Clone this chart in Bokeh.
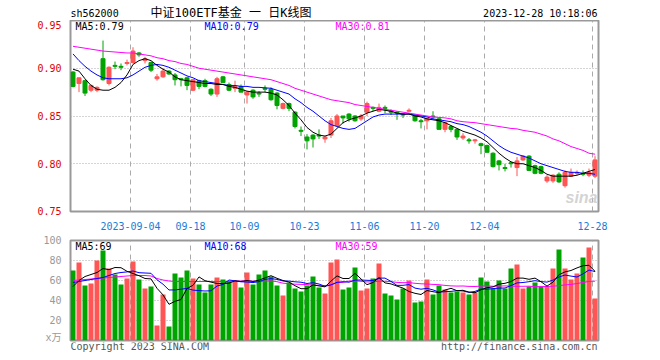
import pandas as pd
from bokeh.plotting import figure
from bokeh.models import Range1d, FixedTicker, Label, ColumnDataSource, PrintfTickFormatter
from bokeh.layouts import column
from bokeh.embed import file_html
from bokeh.resources import INLINE

# ---------------- data ----------------
holidays = ["2023-09-29", "2023-10-02", "2023-10-03", "2023-10-04", "2023-10-05", "2023-10-06"]
first_day = "2023-08-21"
last_day = "2023-12-28"

tick_dates = ["2023-09-04", "2023-09-18", "2023-10-09", "2023-10-23",
              "2023-11-06", "2023-11-20", "2023-12-04", "2023-12-28"]
tick_labels = ["2023-09-04", "09-18", "10-09", "10-23", "11-06", "11-20", "12-04", "12-28"]

price_ticks = [0.75, 0.80, 0.85, 0.90, 0.95]
price_grid = [0.80, 0.85, 0.90]
vol_ticks = [0, 20, 40, 60, 80, 100]
vol_grid = [20, 40, 60, 80]

open_ = [0.896, 0.884, 0.887, 0.877, 0.877, 0.910, 0.884, 0.903, 0.902, 0.905,
         0.906, 0.916, 0.908, 0.906, 0.889, 0.891, 0.897, 0.893, 0.889, 0.890,
         0.877, 0.887, 0.887, 0.878, 0.873, 0.891, 0.883, 0.879, 0.881, 0.872,
         0.877, 0.874, 0.879, 0.878, 0.874, 0.858, 0.863, 0.854, 0.835, 0.828,
         0.830, 0.830, 0.826, 0.830, 0.840, 0.850, 0.852, 0.850, 0.847, 0.854,
         0.859, 0.855, 0.859, 0.855, 0.854, 0.852, 0.855, 0.850, 0.845, 0.845,
         0.850, 0.847, 0.836, 0.839, 0.836, 0.827, 0.825, 0.824, 0.821, 0.819,
         0.811, 0.803, 0.796, 0.801, 0.796, 0.804, 0.808, 0.798, 0.797, 0.782,
         0.782, 0.789, 0.777, 0.787, 0.790, 0.790, 0.788, 0.787]
high = [0.897, 0.890, 0.888, 0.883, 0.881, 0.929, 0.902, 0.907, 0.905, 0.909,
        0.922, 0.917, 0.912, 0.907, 0.894, 0.900, 0.898, 0.895, 0.890, 0.891,
        0.888, 0.888, 0.889, 0.879, 0.891, 0.892, 0.885, 0.887, 0.883, 0.876,
        0.878, 0.876, 0.882, 0.880, 0.875, 0.864, 0.864, 0.855, 0.839, 0.831,
        0.831, 0.836, 0.829, 0.848, 0.852, 0.850, 0.853, 0.851, 0.852, 0.865,
        0.860, 0.863, 0.861, 0.857, 0.855, 0.853, 0.858, 0.851, 0.847, 0.848,
        0.855, 0.848, 0.843, 0.840, 0.837, 0.832, 0.827, 0.826, 0.822, 0.820,
        0.812, 0.804, 0.800, 0.802, 0.807, 0.809, 0.809, 0.799, 0.798, 0.788,
        0.789, 0.791, 0.793, 0.795, 0.793, 0.793, 0.795, 0.808]
low = [0.880, 0.875, 0.871, 0.875, 0.875, 0.887, 0.882, 0.899, 0.898, 0.903,
       0.905, 0.912, 0.905, 0.896, 0.887, 0.890, 0.893, 0.882, 0.881, 0.877,
       0.876, 0.878, 0.880, 0.871, 0.870, 0.885, 0.876, 0.875, 0.875, 0.863,
       0.868, 0.870, 0.875, 0.866, 0.857, 0.857, 0.855, 0.837, 0.829, 0.815,
       0.817, 0.826, 0.822, 0.827, 0.839, 0.842, 0.844, 0.844, 0.845, 0.850,
       0.855, 0.854, 0.853, 0.851, 0.846, 0.848, 0.854, 0.844, 0.837, 0.836,
       0.847, 0.836, 0.833, 0.833, 0.825, 0.825, 0.821, 0.821, 0.810, 0.812,
       0.796, 0.793, 0.792, 0.796, 0.787, 0.803, 0.793, 0.789, 0.789, 0.780,
       0.780, 0.780, 0.775, 0.786, 0.788, 0.787, 0.786, 0.785]
close = [0.881, 0.890, 0.874, 0.882, 0.880, 0.888, 0.901, 0.902, 0.901, 0.906,
         0.918, 0.914, 0.910, 0.898, 0.891, 0.897, 0.894, 0.888, 0.888, 0.882,
         0.888, 0.881, 0.881, 0.873, 0.889, 0.885, 0.877, 0.881, 0.875, 0.875,
         0.870, 0.873, 0.878, 0.867, 0.861, 0.863, 0.858, 0.839, 0.834, 0.824,
         0.826, 0.829, 0.828, 0.845, 0.850, 0.848, 0.847, 0.845, 0.850, 0.863,
         0.858, 0.859, 0.858, 0.854, 0.853, 0.851, 0.856, 0.845, 0.844, 0.847,
         0.849, 0.836, 0.843, 0.836, 0.828, 0.829, 0.824, 0.825, 0.819, 0.812,
         0.797, 0.799, 0.795, 0.800, 0.803, 0.808, 0.793, 0.790, 0.790, 0.786,
         0.788, 0.781, 0.791, 0.791, 0.791, 0.789, 0.791, 0.804]

ma5 = [0.899, 0.897, 0.889, 0.882, 0.878, 0.877, 0.877, 0.880, 0.885, 0.893,
       0.904, 0.908, 0.910, 0.908, 0.903, 0.899, 0.896, 0.891, 0.888, 0.887,
       0.886, 0.885, 0.884, 0.884, 0.883, 0.883, 0.881, 0.880, 0.878, 0.876,
       0.875, 0.875, 0.875, 0.874, 0.872, 0.867, 0.861, 0.853, 0.846, 0.838,
       0.833, 0.830, 0.829, 0.831, 0.837, 0.843, 0.846, 0.848, 0.850, 0.853,
       0.855, 0.857, 0.856, 0.855, 0.853, 0.852, 0.852, 0.850, 0.849, 0.847,
       0.846, 0.845, 0.843, 0.840, 0.837, 0.834, 0.832, 0.830, 0.827, 0.823,
       0.817, 0.811, 0.806, 0.802, 0.800, 0.800, 0.798, 0.796, 0.793, 0.789,
       0.787, 0.787, 0.787, 0.787, 0.788, 0.790, 0.792, 0.794]
ma10 = [0.915, 0.908, 0.902, 0.897, 0.893, 0.890, 0.889, 0.889, 0.889, 0.890,
        0.893, 0.897, 0.901, 0.903, 0.904, 0.903, 0.901, 0.898, 0.895, 0.892,
        0.890, 0.887, 0.886, 0.885, 0.884, 0.883, 0.882, 0.882, 0.881, 0.881,
        0.880, 0.880, 0.8795, 0.879, 0.877, 0.875, 0.873, 0.868, 0.864, 0.859,
        0.855, 0.850, 0.845, 0.841, 0.839, 0.837, 0.836, 0.837, 0.841, 0.845,
        0.849, 0.851, 0.852, 0.852, 0.852, 0.852, 0.852, 0.851, 0.850, 0.849,
        0.847, 0.846, 0.845, 0.844, 0.842, 0.841, 0.839, 0.836, 0.833, 0.829,
        0.824, 0.819, 0.815, 0.812, 0.810, 0.808, 0.806, 0.803, 0.800, 0.798,
        0.796, 0.794, 0.792, 0.791, 0.791, 0.790, 0.790, 0.789]
ma30 = [0.923, 0.922, 0.921, 0.920, 0.919, 0.918, 0.9175, 0.917, 0.9165, 0.916,
        0.916, 0.915, 0.914, 0.913, 0.911, 0.910, 0.908, 0.907, 0.905, 0.904,
        0.902, 0.900, 0.899, 0.898, 0.897, 0.896, 0.895, 0.894, 0.893, 0.892,
        0.891, 0.890, 0.889, 0.888, 0.886, 0.884, 0.882, 0.879, 0.877, 0.875,
        0.873, 0.871, 0.869, 0.867, 0.866, 0.865, 0.864, 0.862, 0.861, 0.860,
        0.859, 0.858, 0.857, 0.856, 0.855, 0.854, 0.853, 0.852, 0.851, 0.850,
        0.849, 0.8485, 0.848, 0.847, 0.845, 0.844, 0.8435, 0.843, 0.842, 0.841,
        0.840, 0.839, 0.838, 0.837, 0.8365, 0.835, 0.834, 0.833, 0.831, 0.829,
        0.826, 0.824, 0.821, 0.818, 0.816, 0.814, 0.811, 0.810]

volume = [70, 78, 55, 57, 80, 90, 72, 66, 56, 62,
          79, 61, 52, 54, 15, 46, 14, 67, 63, 70,
          62, 56, 48, 56, 63, 61, 59, 59, 53, 68,
          56, 66, 70, 64, 55, 45, 58, 52, 49, 55,
          64, 53, 47, 78, 81, 51, 53, 73, 50, 52,
          62, 77, 47, 45, 41, 52, 60, 38, 39, 61,
          46, 55, 51, 48, 49, 48, 46, 48, 63, 59,
          52, 60, 52, 72, 76, 52, 54, 58, 54, 54,
          72, 91, 72, 61, 67, 83, 93, 42]
vol_ma5 = [54, 60, 64, 66, 68, 72, 70.8, 73, 72.8, 69.2,
           67, 64.8, 62, 61.6, 52.2, 45.6, 36.2, 39.2, 41, 52,
           55.2, 63.6, 59.8, 58.4, 57, 56.8, 57.4, 59.6, 59, 60,
           59, 60.4, 62.6, 64.8, 62.2, 60, 58.4, 54.8, 51.8, 51.8,
           55.6, 54.6, 53.6, 59.4, 64.6, 62, 62, 67.2, 61.6, 55.8,
           58, 62.8, 57.6, 56.6, 54.4, 52.4, 49, 47.2, 46, 50,
           48.8, 47.8, 50.4, 52.2, 49.8, 50.2, 48.4, 47.8, 50.8, 52.8,
           53.6, 56.4, 57.2, 59, 62.4, 62.4, 61.2, 62.4, 58.8, 54.4,
           58.4, 65.8, 68.6, 70, 72.6, 74.8, 75.2, 69.2]
vol_ma10 = [58, 59, 60, 61, 62, 63, 65, 67, 68, 68.6,
            69.5, 67.8, 67.5, 67.2, 60.7, 56.3, 50.5, 50.6, 51.3, 52.1,
            50.4, 49.9, 49.5, 49.7, 54.5, 56, 60.5, 59.7, 58.7, 58.5,
            57.9, 58.9, 61.1, 61.9, 61.1, 59.5, 59.4, 58.7, 58.3, 57,
            57.8, 56.5, 54.2, 55.6, 58.2, 58.8, 58.3, 60.4, 60.5, 60.2,
            60, 62.4, 62.4, 59.1, 55.1, 55.2, 55.9, 52.4, 51.3, 52.2,
            50.6, 48.4, 48.8, 49.1, 49.9, 49.5, 48.1, 49.1, 51.5, 51.3,
            51.9, 52.4, 52.5, 54.9, 57.6, 58, 58.8, 59.8, 58.9, 58.4,
            60.4, 63.5, 65.5, 64.4, 63.5, 66.6, 70.5, 68.9]
vol_ma30 = [60, 60.5, 61, 61.5, 62, 62.5, 63, 63.5, 64, 64.5,
            65, 65, 65, 64.5, 62, 60.5, 59.5, 59, 59, 59,
            59, 59, 59, 59, 59, 59, 59, 59.5, 59.5, 59.7,
            59.3, 58.9, 59.4, 59.6, 58.8, 57.3, 56.8, 56.3, 56.1, 55.9,
            55.4, 55.1, 54.9, 55.7, 57.9, 58.1, 59.4, 59.6, 59.2, 58.6,
            58.6, 59.3, 59.2, 58.9, 58.1, 57.8, 57.9, 57.2, 56.7, 56.5,
            56.1, 55.8, 55.1, 54.6, 54.4, 54.5, 54.1, 54.0, 54.4, 54.6,
            54.2, 54.4, 54.6, 54.4, 54.2, 54.2, 54.3, 53.8, 53.9, 54.0,
            54.3, 54.8, 55.6, 56.1, 57.0, 58.0, 59.1, 59.3]

# ---------------- styling ----------------
RED = "#ff5555"
GREEN = "#00a400"
MONO_CJK = "'DejaVu Sans Mono', 'Noto Sans CJK SC'"
GRID = "#aaaaaa"
BORDER = "#999999"
SLOT = 6.0                 # pixels per trading day
BODY_CENTER = 5.0 / 12.0   # body occupies the left 5 px of each 6 px slot
W = 648                    # figure width
LEFT = 70                  # frame left offset
RIGHT = 50                 # frame right offset
FW = W - LEFT - RIGHT      # frame width in px

days = pd.bdate_range(first_day, last_day)
days = days[~days.isin(pd.to_datetime(holidays))]
n = len(days)
xc = [i + BODY_CENTER for i in range(n)]
tick_pos = [int(days.get_loc(pd.Timestamp(d))) for d in tick_dates]

colors = [RED if c >= o else GREEN for o, c in zip(open_, close)]
src = ColumnDataSource(dict(
    x=xc, o=open_, h=high, l=low, c=close,
    top=[max(a, b) for a, b in zip(open_, close)],
    bot=[min(a, b) for a, b in zip(open_, close)],
    color=colors, vol=volume,
    ma5=ma5, ma10=ma10, ma30=ma30,
    vma5=vol_ma5, vma10=vol_ma10, vma30=vol_ma30,
))

xr = Range1d(0, n)


def style(p):
    p.background_fill_color = "white"
    p.border_fill_color = "white"
    p.outline_line_color = BORDER
    p.outline_line_width = 2
    for ax in p.axis:
        ax.axis_line_color = None
        ax.major_tick_line_color = None
        ax.minor_tick_line_color = None
        ax.major_label_text_font = MONO_CJK
        ax.major_label_text_font_size = "10px"
    p.xgrid.ticker = FixedTicker(ticks=tick_pos)
    p.xgrid.grid_line_color = GRID
    p.xgrid.grid_line_dash = "5 4"
    p.ygrid.grid_line_color = GRID
    p.ygrid.grid_line_dash = "1 2"


def lab(p, x, y, text, color="#000000", size="10px", align="left", font=MONO_CJK,
        style_="normal", alpha=1.0):
    p.add_layout(Label(x=x, y=y, x_units="screen", y_units="screen", text=text,
                       text_color=color, text_font=font, text_font_size=size,
                       text_align=align, text_baseline="middle",
                       text_font_style=style_, text_alpha=alpha))


def band(height):
    # a text strip whose frame lines up exactly with the chart frames
    b = figure(width=W, height=height, x_range=xr, y_range=Range1d(0, height),
               output_backend="svg", toolbar_location=None,
               x_axis_type=None, y_axis_type=None,
               min_border_left=LEFT, min_border_right=RIGHT,
               min_border_top=0, min_border_bottom=0)
    b.outline_line_color = None
    b.background_fill_color = "white"
    b.border_fill_color = "white"
    b.xgrid.visible = False
    b.ygrid.visible = False
    return b


# ---------------- header band ----------------
head = band(20)
lab(head, 0, 7, "sh562000")
lab(head, 80, 8, "中证100ETF基金 一 日K线图", size="12px")
lab(head, FW - 1, 7, "2023-12-28 10:18:06", align="right")

# ---------------- price panel ----------------
p1 = figure(width=W, height=212, x_range=xr, y_range=Range1d(0.7499999, 0.9500001),
            output_backend="svg", toolbar_location=None,
            min_border_left=LEFT, min_border_right=RIGHT, min_border_top=0, min_border_bottom=21)
style(p1)
p1.yaxis.ticker = FixedTicker(ticks=price_ticks)
p1.yaxis.formatter = PrintfTickFormatter(format="%.2f")
p1.yaxis.major_label_text_color = "#dd0000"
p1.yaxis.major_label_standoff = 3
p1.xaxis.ticker = FixedTicker(ticks=tick_pos)
p1.xaxis.major_label_overrides = {t: s for t, s in zip(tick_pos, tick_labels)}
p1.xaxis.major_label_text_color = "#1a7bd6"
p1.xaxis.major_label_standoff = 4
p1.ygrid.ticker = FixedTicker(ticks=price_grid)

p1.segment(x0="x", y0="l", x1="x", y1="h", source=src, line_color="color", line_width=1)
p1.vbar(x="x", width=4.0 / SLOT, top="top", bottom="bot", source=src,
        fill_color="color", line_color="color", line_width=1)
p1.line("x", "ma30", source=src, line_color="#ff00ff", line_width=1)
p1.line("x", "ma10", source=src, line_color="#0000ff", line_width=1)
p1.line("x", "ma5", source=src, line_color="#000000", line_width=1)

fh1 = 191  # frame height in px
lab(p1, 5, fh1 - 6, "MA5:0.79", color="#000000")
lab(p1, 134, fh1 - 6, "MA10:0.79", color="#0000ff")
lab(p1, 265, fh1 - 6, "MA30:0.81", color="#ff00ff")
lab(p1, FW - 1, 14, "sina", color="#c8c8c8", size="16px", align="right",
    font="Liberation Sans", style_="bold italic", alpha=0.8)

# ---------------- volume panel ----------------
p2 = figure(width=W, height=110, x_range=xr, y_range=Range1d(0, 100),
            output_backend="svg", toolbar_location=None,
            min_border_left=LEFT, min_border_right=RIGHT, min_border_top=8, min_border_bottom=2)
style(p2)
p2.xaxis.visible = False
p2.yaxis.ticker = FixedTicker(ticks=vol_ticks)
p2.yaxis.major_label_overrides = {0: "x万"}
p2.yaxis.major_label_text_color = "#999999"
p2.yaxis.major_label_standoff = 3
p2.ygrid.ticker = FixedTicker(ticks=vol_grid)

p2.vbar(x="x", width=5.0 / SLOT, top="vol", bottom=0, source=src,
        fill_color="color", line_color=None)
p2.line("x", "vma30", source=src, line_color="#ff00ff", line_width=1)
p2.line("x", "vma10", source=src, line_color="#0000ff", line_width=1)
p2.line("x", "vma5", source=src, line_color="#000000", line_width=1)

lab(p2, 5, 94, "MA5:69", color="#000000")
lab(p2, 134, 94, "MA10:68", color="#0000ff")
lab(p2, 265, 94, "MA30:59", color="#ff00ff")

# ---------------- footer band ----------------
foot = band(14)
lab(foot, 0, 10, "Copyright 2023 SINA.COM", color="#555555")
lab(foot, FW - 1, 10, "http://finance.sina.com.cn", color="#555555", align="right")

layout = column(head, p1, p2, foot)
open("out.html", "w").write(file_html(layout, INLINE))
